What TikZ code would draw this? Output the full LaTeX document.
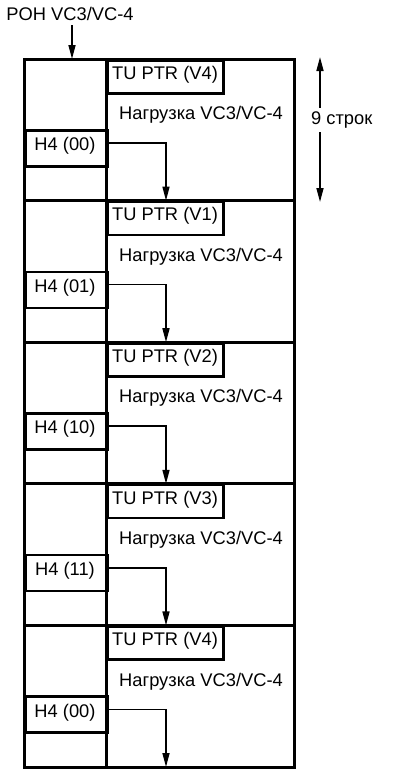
\documentclass[tikz,border=0pt]{standalone}
\usepackage{fontspec}
\setmainfont{Liberation Sans}
\usetikzlibrary{arrows.meta}
\begin{document}
\begin{tikzpicture}[x=1pt,y=-1pt,
  frame/.style={line width=3pt},
  cell/.style={draw,line width=2.6pt,rectangle,inner sep=0pt,anchor=north west},
  lbl/.style={font=\fontsize{18.3}{20}\selectfont,inner sep=0pt},
  flow/.style={line width=1.6pt,-{Triangle[width=7pt,length=14pt]}},
  dim/.style={line width=1.6pt,{Triangle[width=7pt,length=14pt]}-{Triangle[width=7pt,length=14pt]}}]
\useasboundingbox (0,0) rectangle (414,769);
% outer frame and left divider
\draw[frame] (24,59) rectangle (294,767);
\draw[frame] (106,59) -- (106,767);
% block separators
\foreach \k in {1,...,4}{
  \draw[frame] (24,59+141.6*\k) -- (294,59+141.6*\k);
}
% blocks
\foreach \k/\v/\h in {0/V4/00,1/V1/01,2/V2/10,3/V3/11,4/V4/00}{
  \pgfmathsetmacro{\yy}{59+141.6*\k}
  \node[cell,minimum width=116pt,minimum height=33pt] (tu\k) at (106,\yy) {};
  \node[lbl] (tut\k) at (165,\yy+15.5) {TU PTR (\v)};
  \node[lbl] (pay\k) at (201,\yy+56) {Нагрузка VC3/VC-4};
  \node[cell,minimum width=82pt,minimum height=36pt] (h\k) at (24,\yy+70) {};
  \node[lbl] (ht\k) at (65,\yy+87) {H4 (\h)};
  \coordinate (end\k) at (166,\yy+141.6);
  \draw[flow] (h\k.east |- 0,\yy+84) -| (end\k);
}
% POH label and arrow
\node[lbl] (poh) at (70,14) {POH VC3/VC-4};
\coordinate (pohend) at (72,59);
\draw[flow] (72,25) -- (pohend);
% 9 rows dimension
\coordinate (rtop) at (320,57);
\coordinate (rbot) at (320,202);
\draw[dim] (rtop) -- (rbot);
\node[lbl,fill=white,anchor=west,minimum height=24pt,inner xsep=0pt] (rows) at (311,120) {9 строк};
\end{tikzpicture}
\end{document}
